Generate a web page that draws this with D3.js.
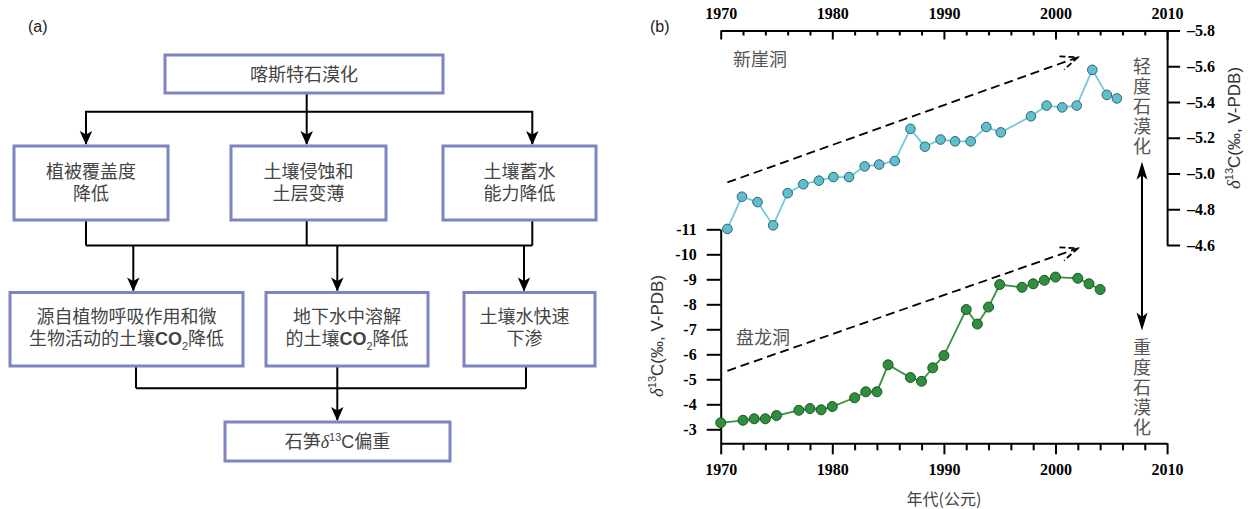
<!DOCTYPE html>
<html>
<head>
<meta charset="utf-8">
<script src="https://cdn.jsdelivr.net/npm/d3@7"></script>
<style>
  body { margin: 0; background: #fff; }
  svg { display: block; }
</style>
</head>
<body>
<div id="chart"></div>
<script>
// ---- chart values ----
var yearLabels = [1970, 1980, 1990, 2000, 2010];
var leftTicks = [-11, -10, -9, -8, -7, -6, -5, -4, -3];
var rightTicks = [-5.8, -5.6, -5.4, -5.2, -5.0, -4.8, -4.6];

// 新崖洞 (right axis)
var xinyaYears = [1970.6, 1971.9, 1973.3, 1974.7, 1976.0, 1977.4, 1978.8, 1980.1, 1981.5, 1982.9, 1984.2, 1985.6, 1987.0,
                  1988.3, 1989.7, 1991.0, 1992.4, 1993.8, 1995.1, 1997.8, 1999.2, 2000.6, 2001.9, 2003.3, 2004.6, 2005.5];
var xinyaD13C = [-4.69, -4.87, -4.84, -4.71, -4.89, -4.94, -4.96, -4.98, -4.98, -5.04, -5.05, -5.07, -5.25,
                 -5.15, -5.19, -5.18, -5.18, -5.26, -5.23, -5.32, -5.38, -5.37, -5.38, -5.58, -5.44, -5.42];

// 盘龙洞 (left axis)
var panlongYears = [1970, 1972, 1973, 1974, 1975, 1977, 1978, 1979, 1980, 1982, 1983, 1984, 1985, 1987,
                    1988, 1989, 1990, 1992, 1993, 1994, 1995, 1997, 1998, 1999, 2000, 2002, 2003, 2004];
var panlongD13C = [-3.26, -3.36, -3.42, -3.42, -3.55, -3.76, -3.83, -3.78, -3.91, -4.26, -4.50, -4.50, -5.58, -5.07,
                   -4.92, -5.46, -5.95, -7.79, -7.21, -7.89, -8.79, -8.68, -8.82, -8.96, -9.09, -9.04, -8.82, -8.59];

// dashed trend arrows [year, value]
var xinyaTrend = [[1970.6, -4.95], [2002, -5.65]];
var panlongTrend = [[1970.6, -5.34], [2002, -10.24]];

// flowchart text
var flowTop = ["喀斯特石漠化"];
var flowMid = [["植被覆盖度", "降低"], ["土壤侵蚀和", "土层变薄"], ["土壤蓄水", "能力降低"]];
var flowLow = [["源自植物呼吸作用和微", "生物活动的土壤CO2降低"], ["地下水中溶解", "的土壤CO2降低"], ["土壤水快速", "下渗"]];
var flowEnd = ["石笋", "δ", "13", "C", "偏重"];

// ---- setup ----
var SERIF = "'Liberation Serif','Times New Roman',serif";
var SANS = "'Liberation Sans',Arial,sans-serif";
var CJK = "'Noto Sans CJK SC','Noto Sans',sans-serif";
var boxColor = "#7d84c1";

var svg = d3.select("#chart").append("svg")
  .attr("width", 1248)
  .attr("height", 509);
svg.append("rect").attr("width", 1248).attr("height", 509).attr("fill", "#fff");

function arrowHead(g, x, y, angle, len, wid) {
  // tip at x,y pointing along angle (degrees, 90 = down)
  g.append("path")
    .attr("d", "M0,0 L" + (-len) + "," + (-wid / 2) + " L" + (-len * 0.75) + ",0 L" + (-len) + "," + (wid / 2) + " Z")
    .attr("transform", "translate(" + x + "," + y + ") rotate(" + angle + ")")
    .attr("fill", "#000");
}

// one line of box text; first tspan may carry x/dy for a new line
function richLine(t, s, cx, dy) {
  var parts = s.split("CO2");
  var first = t.append("tspan").text(parts[0]);
  if (dy) first.attr("x", cx).attr("dy", dy);
  if (parts.length > 1) {
    t.append("tspan").attr("font-family", SANS).attr("font-weight", "bold").text("CO");
    t.append("tspan").attr("font-family", SANS).attr("font-size", 11).attr("dy", 5).text("2");
    t.append("tspan").attr("dy", -5).text(parts[1]);
  }
}

// ================= (a) flowchart =================
var fc = svg.append("g");
fc.append("text").attr("x", 28).attr("y", 32).attr("font-family", SANS).attr("font-size", 16)
  .attr("fill", "#222").text("(a)");

var topBox = { x0: 165, x1: 443, y0: 55, y1: 93 };
var midBoxes = [{ x0: 14, x1: 168 }, { x0: 231, x1: 386 }, { x0: 443, x1: 596 }];
var midY = [146, 220];
var lowBoxes = [{ x0: 10, x1: 243 }, { x0: 266, x1: 428 }, { x0: 464, x1: 595 }];
var lowY = [292.5, 366];
var endBox = { x0: 225, x1: 450, y0: 422, y1: 461 };

function box(b, y0, y1) {
  fc.append("rect").attr("x", b.x0).attr("y", y0).attr("width", b.x1 - b.x0).attr("height", y1 - y0)
    .attr("fill", "#fff").attr("stroke", boxColor).attr("stroke-width", 3);
}
function boxText(cx, cy, lines) {
  var lh = 21.5;
  var t = fc.append("text").attr("x", cx).attr("y", cy - (lines.length - 1) / 2 * lh + 6.5)
    .attr("text-anchor", "middle").attr("font-family", CJK).attr("font-size", 18).attr("fill", "#444");
  lines.forEach(function(s, i) { richLine(t, s, cx, i > 0 ? lh : 0); });
}

// connectors
var line = function(pts) {
  fc.append("path").attr("d", d3.line()(pts)).attr("fill", "none").attr("stroke", "#000").attr("stroke-width", 2);
};
var split1 = 111.7, midArrowX = [86, 306.7, 532.3];
line([[306.7, topBox.y1], [306.7, midY[0] - 2]]);
line([[midArrowX[0], midY[0] - 2], [midArrowX[0], split1], [midArrowX[2], split1], [midArrowX[2], midY[0] - 2]]);
midArrowX.forEach(function(x) { arrowHead(fc, x, midY[0] - 1, 90, 14, 12.5); });

var join2 = 245.5, lowArrowX = [133.3, 337.3, 524];
midArrowX.forEach(function(x) { line([[x, midY[1]], [x, join2]]); });
line([[midArrowX[0], join2], [midArrowX[2], join2]]);
lowArrowX.forEach(function(x) { line([[x, join2], [x, lowY[0] - 2]]); arrowHead(fc, x, lowY[0] - 1, 90, 14, 12.5); });

var join3 = 388.3, lowOutX = [136, 337.3, 526];
lowOutX.forEach(function(x) { line([[x, lowY[1]], [x, join3]]); });
line([[lowOutX[0], join3], [lowOutX[2], join3]]);
line([[337.3, join3], [337.3, endBox.y0 - 2]]);
arrowHead(fc, 337.3, endBox.y0 - 1, 90, 14, 12.5);

// boxes
box(topBox, topBox.y0, topBox.y1);
boxText((topBox.x0 + topBox.x1) / 2, 74.5, flowTop);
midBoxes.forEach(function(b, i) { box(b, midY[0], midY[1]); boxText((b.x0 + b.x1) / 2, 182.5, flowMid[i]); });
lowBoxes.forEach(function(b, i) { box(b, lowY[0], lowY[1]); boxText((b.x0 + b.x1) / 2 - (i === 2 ? 5 : 0), 327.5, flowLow[i]); });
box(endBox, endBox.y0, endBox.y1);
(function() {
  var t = fc.append("text").attr("x", (endBox.x0 + endBox.x1) / 2).attr("y", 448)
    .attr("text-anchor", "middle").attr("font-family", CJK).attr("font-size", 18).attr("fill", "#444");
  t.append("tspan").text(flowEnd[0]);
  t.append("tspan").attr("font-family", SERIF).attr("font-style", "italic").text(flowEnd[1]);
  t.append("tspan").attr("font-family", SANS).attr("font-size", 11).attr("dy", -7).text(flowEnd[2]);
  t.append("tspan").attr("font-family", SANS).attr("dy", 7).text(flowEnd[3]);
  t.append("tspan").text(flowEnd[4]);
})();

// ================= (b) chart =================
var xLeft = 720.7, xRight = 1167.1, yTop = 30.5, yBottom = 443.3;

var x = d3.scaleLinear().domain([1970, 2010]).range([xLeft, xRight]);
var yL = d3.scaleLinear().domain([-3, -11]).range([429.3, 229.3]);
yL.domain([yL.invert(yBottom), -11]).range([yBottom, yL(-11)]);
var yR = d3.scaleLinear().domain([-5.8, -4.6]).range([yTop, 245]);

var minorYears = d3.range(yearLabels[0], yearLabels[yearLabels.length - 1] + 1, 2);

function styleAxis(g) {
  g.attr("font-family", SERIF).attr("font-size", 16).attr("font-weight", "bold");
  g.selectAll("path, line").attr("stroke", "#000").attr("stroke-width", 2);
  g.selectAll("text").attr("fill", "#000");
}

// top axis
var gTop = svg.append("g").attr("transform", "translate(0," + yTop + ")")
  .call(d3.axisTop(x).tickValues(minorYears).tickSizeInner(-5).tickSizeOuter(0).tickPadding(12)
    .tickFormat(function(d) { return yearLabels.indexOf(d) >= 0 ? d : ""; }));
gTop.selectAll(".tick").filter(function(d) { return yearLabels.indexOf(d) >= 0; }).select("line").attr("y2", 9);
styleAxis(gTop);

// bottom axis
var gBot = svg.append("g").attr("transform", "translate(0," + yBottom + ")")
  .call(d3.axisBottom(x).tickValues(minorYears).tickSizeInner(7).tickSizeOuter(0)
    .tickFormat(function(d) { return yearLabels.indexOf(d) >= 0 ? d : ""; }));
gBot.selectAll(".tick").filter(function(d) { return yearLabels.indexOf(d) >= 0; }).select("line").attr("y2", 11);
gBot.selectAll(".tick text").attr("y", 31.5).attr("dy", 0);
styleAxis(gBot);

// left axis
var gLeft = svg.append("g").attr("transform", "translate(" + xLeft + ",0)")
  .call(d3.axisLeft(yL).tickValues(leftTicks).tickSizeInner(14).tickSizeOuter(0).tickPadding(10)
    .tickFormat(function(d) { return "-" + Math.abs(d); }));
styleAxis(gLeft);

// right axis
var gRight = svg.append("g").attr("transform", "translate(" + xRight + ",0)")
  .call(d3.axisRight(yR).tickValues(rightTicks).tickSizeInner(13).tickSizeOuter(0).tickPadding(7)
    .tickFormat(function(d) { return "\u2013" + Math.abs(d).toFixed(1); }));
styleAxis(gRight);

// axis titles
function d13cLabel(cx, cy) {
  var t = svg.append("text").attr("transform", "translate(" + cx + "," + cy + ") rotate(-90)")
    .attr("text-anchor", "middle").attr("font-family", SANS).attr("font-size", 17).attr("fill", "#333");
  t.append("tspan").attr("font-family", SERIF).attr("font-style", "italic").attr("font-size", 19).text("δ");
  t.append("tspan").attr("font-size", 11).attr("dy", -7).text("13");
  t.append("tspan").attr("dy", 7).text("C(‰, V-PDB)");
}
d13cLabel(663, 336);
d13cLabel(1240, 128);

svg.append("text").attr("x", (xLeft + xRight) / 2).attr("y", 505)
  .attr("text-anchor", "middle").attr("font-family", CJK).attr("font-size", 16).attr("fill", "#444")
  .text("年代(公元)");

svg.append("text").attr("x", 650).attr("y", 32).attr("font-family", SANS).attr("font-size", 16)
  .attr("fill", "#222").text("(b)");

// trend arrows (dashed)
function trend(pts, ys) {
  var p0 = [x(pts[0][0]), ys(pts[0][1])], p1 = [x(pts[1][0]), ys(pts[1][1])];
  svg.append("line").attr("x1", p0[0]).attr("y1", p0[1]).attr("x2", p1[0]).attr("y2", p1[1])
    .attr("stroke", "#000").attr("stroke-width", 1.8).attr("stroke-dasharray", "9,5");
  var ang = Math.atan2(p1[1] - p0[1], p1[0] - p0[0]) * 180 / Math.PI;
  var h = svg.append("g").attr("transform", "translate(" + p1[0] + "," + p1[1] + ") rotate(" + ang + ")");
  h.append("path").attr("d", "M-17,-7 L0,0 L-17,7").attr("fill", "none").attr("stroke", "#000")
    .attr("stroke-width", 1.8).attr("stroke-dasharray", "6,3");
}
trend(xinyaTrend, yR);
trend(panlongTrend, yL);

// series
function series(xs, vs, ys, lineColor, fill, stroke, r) {
  var pts = xs.map(function(d, i) { return [x(d), ys(vs[i])]; });
  svg.append("path").attr("d", d3.line()(pts)).attr("fill", "none")
    .attr("stroke", lineColor).attr("stroke-width", 1.8);
  svg.append("g").selectAll("circle").data(pts).enter().append("circle")
    .attr("cx", function(d) { return d[0]; }).attr("cy", function(d) { return d[1]; })
    .attr("r", r).attr("fill", fill).attr("stroke", stroke).attr("stroke-width", 1);
}
series(xinyaYears, xinyaD13C, yR, "#6fcadc", "#5fbfcf", "#35606b", 4.8);
series(panlongYears, panlongD13C, yL, "#3a8f3a", "#2f8f3f", "#1d5527", 5);

// cave names
svg.append("text").attr("x", 733).attr("y", 66).attr("font-family", CJK).attr("font-size", 18)
  .attr("fill", "#555").text("新崖洞");
svg.append("text").attr("x", 736).attr("y", 344).attr("font-family", CJK).attr("font-size", 18)
  .attr("fill", "#555").text("盘龙洞");

// vertical severity arrow + labels
var ax = 1142;
svg.append("line").attr("x1", ax).attr("x2", ax).attr("y1", 170).attr("y2", 322)
  .attr("stroke", "#000").attr("stroke-width", 2);
arrowHead(svg, ax, 161.7, -90, 18, 11);
arrowHead(svg, ax, 330.5, 90, 18, 11);

function vText(s, top) {
  svg.append("text").attr("x", ax).attr("y", top)
    .style("writing-mode", "vertical-rl").style("text-orientation", "upright")
    .style("letter-spacing", "2px")
    .attr("font-family", CJK).attr("font-size", 18).attr("fill", "#555").text(s);
}
vText("轻度石漠化", 57);
vText("重度石漠化", 338);
</script>
</body>
</html>
